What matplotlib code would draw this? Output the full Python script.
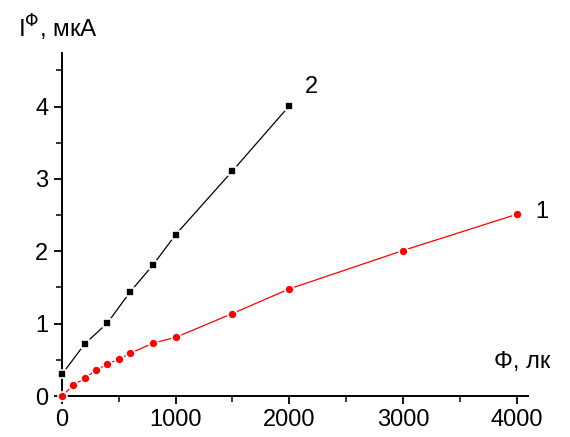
import matplotlib.pyplot as plt
from matplotlib.ticker import MultipleLocator

plt.rcParams['font.family'] = ['Liberation Sans', 'DejaVu Sans']

# curve 1 (red circles)
x1 = [0, 100, 200, 300, 400, 500, 600, 800, 1000, 1500, 2000, 3000, 4000]
y1 = [0.0, 0.15, 0.245, 0.36, 0.44, 0.51, 0.59, 0.73, 0.81, 1.14, 1.48, 2.01, 2.51]

# curve 2 (black squares)
x2 = [0, 200, 400, 600, 800, 1000, 1500, 2000]
y2 = [0.30, 0.72, 1.01, 1.44, 1.81, 2.23, 3.11, 4.01]

fig = plt.figure(figsize=(5.7, 4.37), dpi=100)
ax = fig.add_axes([0.1088, 0.0938, 0.8175, 0.785])

ax.plot(x1, y1, color='red', lw=0.9, marker='o', ms=6.5,
        mfc='red', mec='white', mew=1.2, clip_on=False, zorder=3)
ax.plot(x2, y2, color='black', lw=0.9, marker='s', ms=6.2,
        mfc='black', mec='white', mew=1.2, clip_on=False, zorder=3)

ax.set_xlim(0, 4100)
ax.set_ylim(0, 4.74)
ax.xaxis.set_major_locator(MultipleLocator(1000))
ax.xaxis.set_minor_locator(MultipleLocator(500))
ax.yaxis.set_major_locator(MultipleLocator(1))
ax.yaxis.set_minor_locator(MultipleLocator(0.5))

for s in ['top', 'right']:
    ax.spines[s].set_visible(False)
for s in ['left', 'bottom']:
    ax.spines[s].set_linewidth(1.4)

ax.tick_params(which='major', length=6, width=1.3, labelsize=17, direction='out')
ax.tick_params(which='minor', length=4, width=1.1, direction='out')
ax.tick_params(axis='x', pad=3)
ax.tick_params(axis='y', pad=4)

fig.text(0.031, 0.915, r'I$^{\Phi}$, мкА', fontsize=17.5, ha='left', va='baseline')
ax.text(3797, 0.39, 'Φ, лк', fontsize=17, ha='left', va='baseline')
ax.text(2141, 4.19, '2', fontsize=17, ha='left', va='baseline')
ax.text(4167, 2.46, '1', fontsize=17, ha='left', va='baseline')

fig.savefig('out.png', dpi=100)
